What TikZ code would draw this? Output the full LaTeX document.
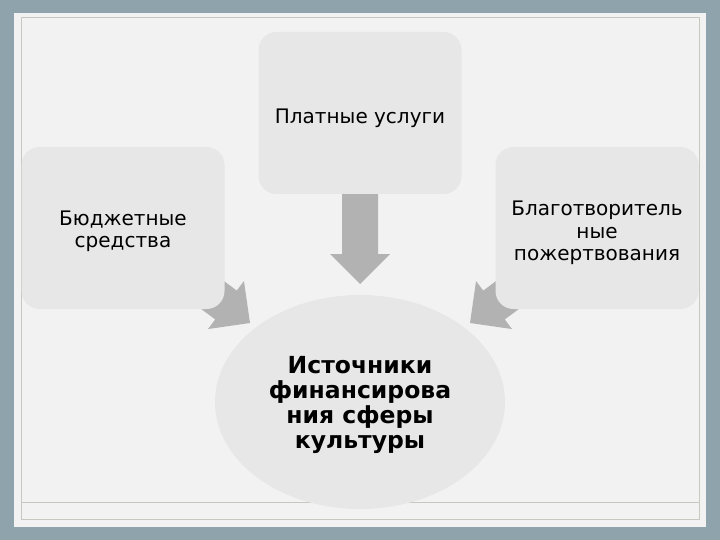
\documentclass[tikz,border=0pt]{standalone}
\usepackage{fontspec}
\setmainfont{DejaVu Sans}
\usetikzlibrary{shapes.geometric,calc}
\definecolor{outerbg}{RGB}{143,163,173}
\definecolor{panel}{RGB}{242,242,242}
\definecolor{frameline}{RGB}{200,200,192}
\definecolor{boxfill}{RGB}{231,231,231}
\definecolor{arrowfill}{RGB}{178,178,178}
\tikzset{
  srcbox/.style={fill=boxfill, rounded corners=18pt, minimum width=203pt, minimum height=162pt,
    align=center, inner sep=0pt, font=\fontsize{20}{22.5}\selectfont},
  hub/.style={ellipse, fill=boxfill, minimum width=290pt, minimum height=214pt, inner sep=0pt,
    align=center, font=\fontsize{23.5}{24.7}\selectfont\bfseries},
  blockarrow/.style={fill=arrowfill},
}
\newcommand{\blockarr}[2]{%
  \fill[blockarrow]
    let \p1=($(#2)!30pt!(#1)$) in
    ($(#1)!18pt!90:(#2)$) -- ($(\p1)!18pt!90:(#2)$) -- ($(\p1)!30pt!90:(#2)$) -- (#2)
    -- ($(\p1)!30pt!-90:(#2)$) -- ($(\p1)!18pt!-90:(#2)$) -- ($(#1)!18pt!-90:(#2)$) -- cycle;}
\begin{document}
\begin{tikzpicture}[x=1pt,y=-1pt]
  \useasboundingbox (0,0) rectangle (720,540);
  \fill[outerbg] (0,0) rectangle (720,540);
  \fill[panel] (14,13) rectangle (706,527);
  \draw[frameline, line width=1pt] (21,18) rectangle (699,519);
  \draw[frameline, line width=1pt] (21,502) -- (699,502);

  \coordinate (sL) at (123,228);
  \coordinate (sT) at (360,113);
  \coordinate (sR) at (597,228);
  \coordinate (tL) at (250,323);
  \coordinate (tT) at (360,284);
  \coordinate (tR) at (470,323);
  \blockarr{sL}{tL}
  \blockarr{sT}{tT}
  \blockarr{sR}{tR}

  \node[srcbox] (top) at (360,113) {\rule{0pt}{25pt}Платные услуги};
  \node[srcbox] (left) at (123,228) {\rule{0pt}{21pt}Бюджетные\\средства};
  \node[srcbox] (right) at (597,228) {\rule{0pt}{25pt}Благотворитель\\ные\\пожертвования};
  \node[hub] (hub) at (360,402) {\rule{0pt}{23pt}Источники\\финансирова\\ния сферы\\культуры};
\end{tikzpicture}
\end{document}
